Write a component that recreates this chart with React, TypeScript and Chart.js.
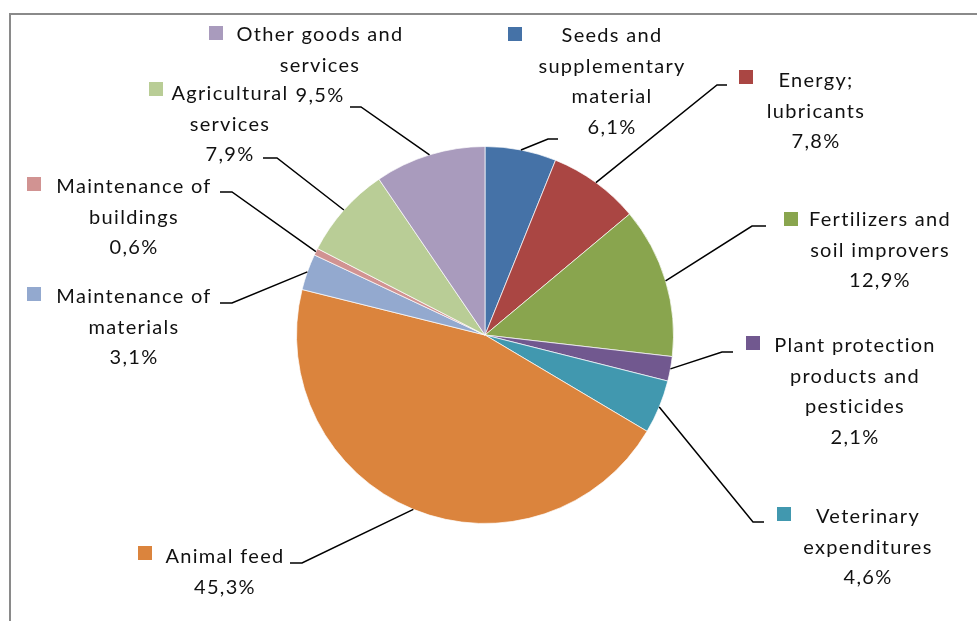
import React, { useEffect, useRef } from "react";
import { Chart, registerables } from "chart.js";

Chart.register(...registerables);

const categories = [
  "Seeds and\nsupplementary\nmaterial",
  "Energy;\nlubricants",
  "Fertilizers and\nsoil improvers",
  "Plant protection\nproducts and\npesticides",
  "Veterinary\nexpenditures",
  "Animal feed",
  "Maintenance of\nmaterials",
  "Maintenance of\nbuildings",
  "Agricultural\nservices",
  "Other goods and\nservices",
];

const shares = [6.1, 7.8, 12.9, 2.1, 4.6, 45.3, 3.1, 0.6, 7.9, 9.5];

const colors = [
  "#4572A7",
  "#AA4643",
  "#89A54E",
  "#71588F",
  "#4198AF",
  "#DB843D",
  "#93A9CF",
  "#D19392",
  "#B9CD96",
  "#A99BBD",
];

// label layout: text centre x, first line y, marker left/top, leader elbow x/y, leader end x
const labelLayout = [
  { cx: 612, y0: 36, mx: 508, my: 27, ex: 548, ey: 139, endX: 558 },
  { cx: 816, y0: 81, mx: 739, my: 70, ex: 717, ey: 85, endX: 727 },
  { cx: 880, y0: 220, mx: 784, my: 212, ex: 752, ey: 226, endX: 766 },
  { cx: 855, y0: 346, mx: 746, my: 336, ex: 722, ey: 352, endX: 733 },
  { cx: 868, y0: 517, mx: 777, my: 507, ex: 753, ey: 522, endX: 764 },
  { cx: 225, y0: 557, mx: 138, my: 546, ex: 302, ey: 563, endX: 290 },
  { cx: 134, y0: 297, mx: 27, my: 287, ex: 232, ey: 303, endX: 220 },
  { cx: 134, y0: 187, mx: 27, my: 177, ex: 232, ey: 192, endX: 220 },
  { cx: 230, y0: 94, mx: 149, my: 82, ex: 277, ey: 158, endX: 263 },
  { cx: 320, y0: 35, mx: 209, my: 26, ex: 361, ey: 107, endX: 350 },
];

const FONT = '20px Lato, "Open Sans", sans-serif';
const LINE_H = 30.5;

const labelPlugin = {
  id: "excelLabels",
  afterDraw(chart: any) {
    const ctx = chart.ctx as CanvasRenderingContext2D;
    ctx.save();
    // frame
    ctx.strokeStyle = "#8a8a8a";
    ctx.lineWidth = 2;
    ctx.beginPath();
    ctx.moveTo(10, chart.height);
    ctx.lineTo(10, 14);
    ctx.lineTo(chart.width, 14);
    ctx.stroke();

    const meta = chart.getDatasetMeta(0);
    meta.data.forEach((arc: any, i: number) => {
      const L = labelLayout[i];
      const mid = (arc.startAngle + arc.endAngle) / 2;
      const sx = arc.x + Math.cos(mid) * arc.outerRadius;
      const sy = arc.y + Math.sin(mid) * arc.outerRadius;
      ctx.strokeStyle = "#000";
      ctx.lineWidth = 1.5;
      ctx.beginPath();
      ctx.moveTo(sx, sy);
      ctx.lineTo(L.ex, L.ey);
      ctx.lineTo(L.endX, L.ey);
      ctx.stroke();

      ctx.fillStyle = colors[i];
      ctx.fillRect(L.mx, L.my, 14, 14);

      const lines = categories[i].split("\n");
      lines.push(shares[i].toFixed(1).replace(".", ",") + "%");
      ctx.fillStyle = "#111";
      ctx.font = FONT;
      ctx.textAlign = "center";
      ctx.textBaseline = "middle";
      (ctx as any).letterSpacing = "1.3px";
      lines.forEach((t, k) => {
        ctx.fillText(t, L.cx, L.y0 + k * LINE_H);
      });
    });
    ctx.restore();
  },
};

export default function App() {
  const ref = useRef<HTMLCanvasElement | null>(null);
  useEffect(() => {
    if (!ref.current) return;
    const chart = new Chart(ref.current, {
      type: "pie",
      data: {
        labels: categories,
        datasets: [
          {
            data: shares,
            backgroundColor: colors,
            borderColor: "rgba(255,255,255,0.7)",
            borderWidth: 1,
          },
        ],
      },
      options: {
        responsive: false,
        animation: false,
        layout: { padding: { left: 296, right: 303, top: 146, bottom: 97 } },
        plugins: { legend: { display: false }, tooltip: { enabled: false } },
      },
      plugins: [labelPlugin],
    });
    return () => chart.destroy();
  }, []);
  return (
    <div style={{ position: "fixed", left: 0, top: 0, width: 977, height: 621, background: "#fff" }}>
      <canvas ref={ref} width={977} height={621} style={{ display: "block" }} />
    </div>
  );
}
